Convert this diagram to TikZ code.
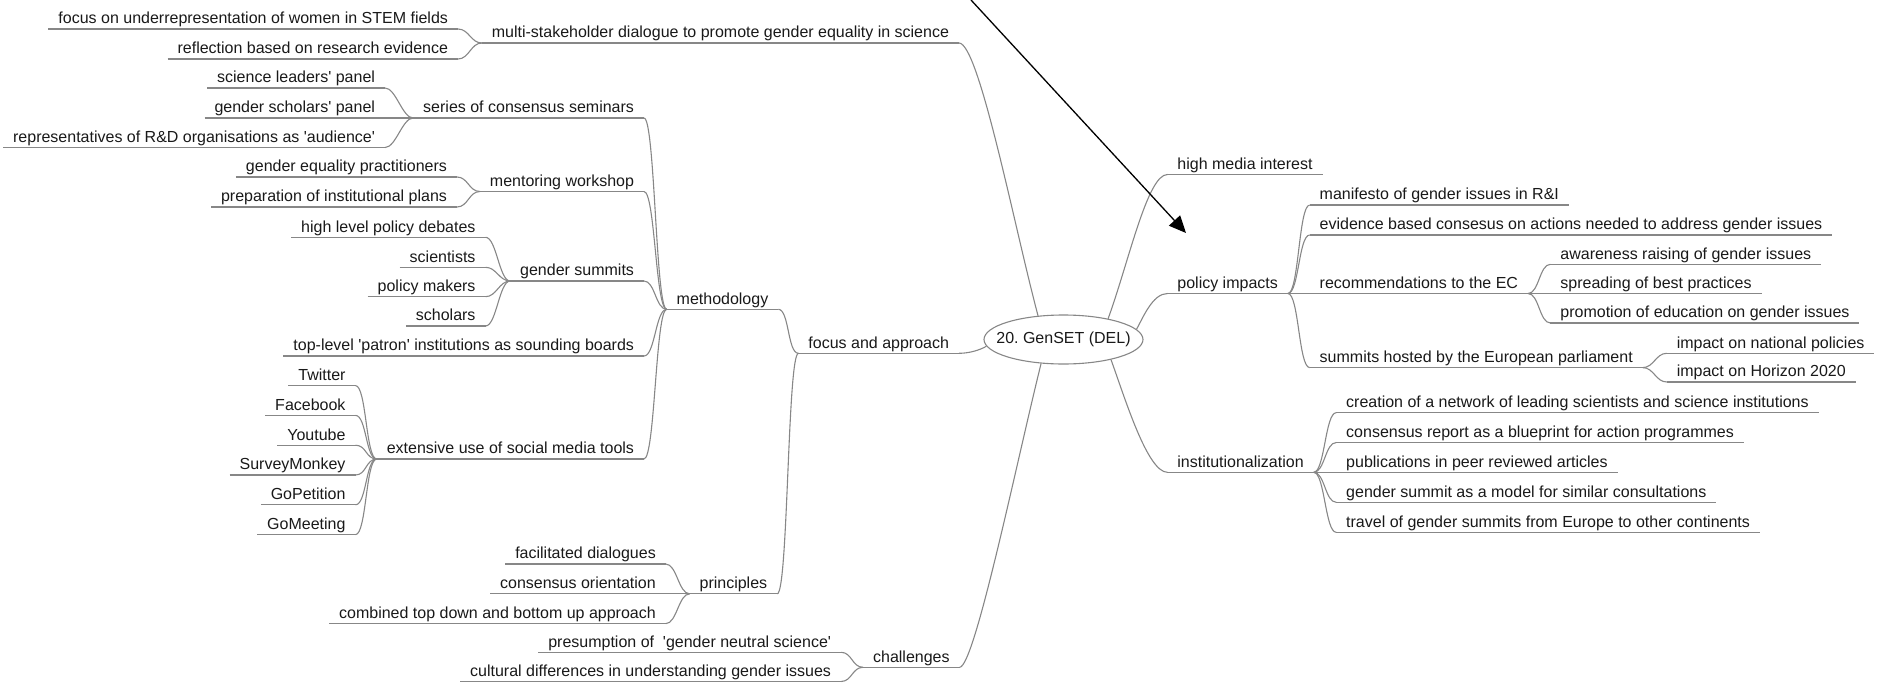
\documentclass[tikz,border=0pt]{standalone}
\usepackage{fontspec}
\newfontfamily\diafont{Liberation Sans}
\usetikzlibrary{shapes.geometric,arrows.meta}
\definecolor{edgegray}{RGB}{135,135,135}
\definecolor{txt}{RGB}{25,25,25}
\tikzset{
  lbl/.style={font=\diafont\fontsize{16}{19}\selectfont, text=txt, inner xsep=10pt, inner ysep=1.2pt, text height=12pt, text depth=4pt, outer sep=0pt},
  lnode/.style={lbl, anchor=south east},
  rnode/.style={lbl, anchor=south west},
  edge/.style={draw=edgegray, line width=1.1pt},
  br/.style={out=0, in=180, distance=11pt},
}
\begin{document}
\frenchspacing
\begin{tikzpicture}[x=1pt,y=1pt]
\useasboundingbox (0,0) rectangle (1883,-683);
% root
\node[ellipse, draw=edgegray, line width=1.1pt, minimum width=159pt, minimum height=49pt, inner sep=0pt, text height=8pt, text depth=2pt, font=\diafont\fontsize{16}{19}\selectfont, text=txt] (root) at (1063.5,-339.5) {\makebox[0pt]{\raisebox{-0.5pt}{20. GenSET (DEL)}}};
% left side
\node[lnode] (multi) at (959,-43) {multi-stakeholder dialogue to promote gender equality in science};
\node[lnode] (underrep) at (458,-29) {focus on underrepresentation of women in STEM fields};
\node[lnode] (reflect) at (458,-59) {reflection based on research evidence};
\node[lnode] (seminars) at (644,-118) {series of consensus seminars};
\node[lnode] (leaders) at (385,-88) {science leaders' panel};
\node[lnode] (gscholars) at (385,-118) {gender scholars' panel};
\node[lnode] (reps) at (385,-147.5) {representatives of R\&D organisations as 'audience'};
\node[lnode] (mentoring) at (644,-191.5) {mentoring workshop};
\node[lnode] (gepract) at (457,-177) {gender equality practitioners};
\node[lnode] (prep) at (457,-207) {preparation of institutional plans};
\node[lnode] (gsummits) at (644,-281) {gender summits};
\node[lnode] (hlpd) at (485.5,-237.3) {high level policy debates};
\node[lnode] (scientists) at (485.5,-267.3) {scientists};
\node[lnode] (pmakers) at (485.5,-296.7) {policy makers};
\node[lnode] (scholars) at (485.5,-326) {scholars};
\node[lnode] (toplevel) at (644,-356) {top-level 'patron' institutions as sounding boards};
\node[lnode] (social) at (644,-459) {extensive use of social media tools};
\node[lnode] (twitter) at (355.5,-385.6) {Twitter};
\node[lnode] (facebook) at (355.5,-415.4) {Facebook};
\node[lnode] (youtube) at (355.5,-445.2) {Youtube};
\node[lnode] (survey) at (355.5,-475.0) {SurveyMonkey};
\node[lnode] (gopet) at (355.5,-504.8) {GoPetition};
\node[lnode] (gomeet) at (355.5,-534.6) {GoMeeting};
\node[lnode] (method) at (778.3,-309.3) {methodology};
\node[lnode] (focus) at (959,-353.3) {focus and approach};
\node[lnode] (princ) at (777.2,-593.8) {principles};
\node[lnode] (facil) at (665.8,-564) {facilitated dialogues};
\node[lnode] (consor) at (665.8,-593.8) {consensus orientation};
\node[lnode] (combined) at (665.8,-623.6) {combined top down and bottom up approach};
\node[lnode] (challenges) at (959.6,-667.3) {challenges};
\node[lnode] (presum) at (841,-652.3) {presumption of~~'gender neutral science'};
\node[lnode] (cultural) at (841,-681.5) {cultural differences in understanding gender issues};
% right side
\node[rnode] (media) at (1167.4,-174.5) {high media interest};
\node[rnode] (policy) at (1167.4,-293.5) {policy impacts};
\node[rnode] (manifesto) at (1309.7,-205) {manifesto of gender issues in R\&I};
\node[rnode] (evidence) at (1309.7,-235) {evidence based consesus on actions needed to address gender issues};
\node[rnode] (recomm) at (1309.7,-293.5) {recommendations to the EC};
\node[rnode] (summits) at (1309.7,-367.6) {summits hosted by the European parliament};
\node[rnode] (aware) at (1550.4,-264.3) {awareness raising of gender issues};
\node[rnode] (spread) at (1550.4,-293.5) {spreading of best practices};
\node[rnode] (promo) at (1550.4,-323) {promotion of education on gender issues};
\node[rnode] (natpol) at (1666.8,-353.3) {impact on national policies};
\node[rnode] (horizon) at (1666.8,-382) {impact on Horizon 2020};
\node[rnode] (instit) at (1167.4,-472.3) {institutionalization};
\node[rnode] (creation) at (1336.2,-412.7) {creation of a network of leading scientists and science institutions};
\node[rnode] (report) at (1336.2,-442.5) {consensus report as a blueprint for action programmes};
\node[rnode] (pubs) at (1336.2,-472.3) {publications in peer reviewed articles};
\node[rnode] (model) at (1336.2,-502.3) {gender summit as a model for similar consultations};
\node[rnode] (travel) at (1336.2,-532.3) {travel of gender summits from Europe to other continents};
% underlines
\foreach \n in {multi,underrep,reflect,seminars,leaders,gscholars,reps,mentoring,gepract,prep,gsummits,hlpd,scientists,pmakers,scholars,toplevel,social,twitter,facebook,youtube,survey,gopet,gomeet,method,focus,princ,facil,consor,combined,challenges,presum,cultural,media,policy,manifesto,evidence,recomm,summits,aware,spread,promo,natpol,horizon,instit,creation,report,pubs,model,travel}
  \draw[edge] (\n.south west) -- (\n.south east);
% left brackets
\foreach \c/\p in {underrep/multi,reflect/multi,leaders/seminars,gscholars/seminars,reps/seminars,gepract/mentoring,prep/mentoring,hlpd/gsummits,scientists/gsummits,pmakers/gsummits,scholars/gsummits,twitter/social,facebook/social,youtube/social,survey/social,gopet/social,gomeet/social,seminars/method,mentoring/method,gsummits/method,toplevel/method,social/method,method/focus,princ/focus,facil/princ,consor/princ,combined/princ,presum/challenges,cultural/challenges}
  \draw[edge] (\c.south east) to[br] (\p.south west);
% right brackets
\foreach \p/\c in {policy/manifesto,policy/evidence,policy/recomm,policy/summits,recomm/aware,recomm/spread,recomm/promo,summits/natpol,summits/horizon,instit/creation,instit/report,instit/pubs,instit/model,instit/travel}
  \draw[edge] (\p.south east) to[br] (\c.south west);
% root connectors
\draw[edge] (multi.south east) to[out=0,in=105,out distance=20pt,in distance=90pt] (root.137);
\draw[edge] (focus.south east) to[out=0,in=210,out distance=10pt,in distance=8pt] (root.185);
\draw[edge] (challenges.south east) to[out=0,in=256,out distance=15pt,in distance=100pt] (root.227);
\draw[edge] (root.25) to[out=70,in=180,out distance=60pt,in distance=20pt] (media.south west);
\draw[edge] (root.8) to[out=60,in=180,out distance=12pt,in distance=15pt] (policy.south west);
\draw[edge] (root.337) to[out=-70,in=180,out distance=40pt,in distance=20pt] (instit.south west);
% arrow
\coordinate (arrS) at (971,0);
\coordinate (arrE) at (1186,-233);
\draw[line width=1.3pt, -{Triangle[length=17pt,width=15pt]}] (arrS) -- (arrE);
\end{tikzpicture}
\end{document}
